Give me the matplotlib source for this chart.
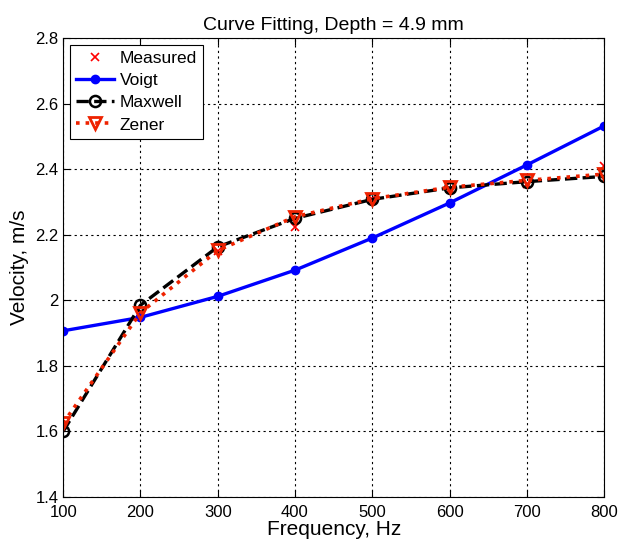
import numpy as np
import matplotlib
matplotlib.use("Agg")
import matplotlib.pyplot as plt

plt.rcParams['font.family'] = ['Liberation Sans', 'DejaVu Sans']

# Data
freq = [100, 200, 300, 400, 500, 600, 700, 800]
measured = [1.62, 1.96, 2.15, 2.225, 2.31, 2.34, 2.355, 2.41]
voigt = [1.907, 1.948, 2.012, 2.092, 2.19, 2.297, 2.413, 2.532]
maxwell = [1.60, 1.985, 2.163, 2.25, 2.308, 2.343, 2.362, 2.378]
zener = [1.625, 1.962, 2.152, 2.255, 2.31, 2.345, 2.366, 2.385]

fig = plt.figure(figsize=(6.19, 5.44), dpi=100)
ax = fig.add_axes([0.102, 0.0864, 0.874, 0.8436])

ax.plot(freq, measured, 'x', color='red', ms=6, mew=1.2, label='Measured')
ax.plot(freq, voigt, '-o', color='blue', lw=2.4, ms=6, label='Voigt')
ax.plot(freq, maxwell, '--o', color='black', lw=2.4, ms=8, mfc='none', mew=1.8,
        label='Maxwell')
ax.plot(freq, zener, ':v', color='#ee2200', lw=2.6, ms=9, mfc='none', mew=2,
        label='Zener')

ax.set_xlim(100, 800)
ax.set_ylim(1.4, 2.8)
ax.set_xticks(np.arange(100, 801, 100))
ax.set_yticks(np.arange(1.4, 2.81, 0.2))
ax.set_yticklabels(['1.4', '1.6', '1.8', '2', '2.2', '2.4', '2.6', '2.8'])
ax.tick_params(direction='in', top=True, right=True, labelsize=12, length=5)
ax.tick_params(axis='x', pad=6)
ax.grid(True, linestyle=(0, (2, 3)), color='black', lw=0.8)

ax.set_title('Curve Fitting, Depth = 4.9 mm', fontsize=14)
ax.set_xlabel('Frequency, Hz', fontsize=15, labelpad=0)
ax.set_ylabel('Velocity, m/s', fontsize=15)

leg = ax.legend(loc='upper left', fancybox=False, edgecolor='black',
                fontsize=12.5, borderaxespad=0.4, handlelength=2.2,
                handletextpad=0.3, borderpad=0.35, labelspacing=0.4)
leg.get_frame().set_linewidth(0.8)
leg.get_frame().set_alpha(1)

fig.savefig('out.png', dpi=100)
